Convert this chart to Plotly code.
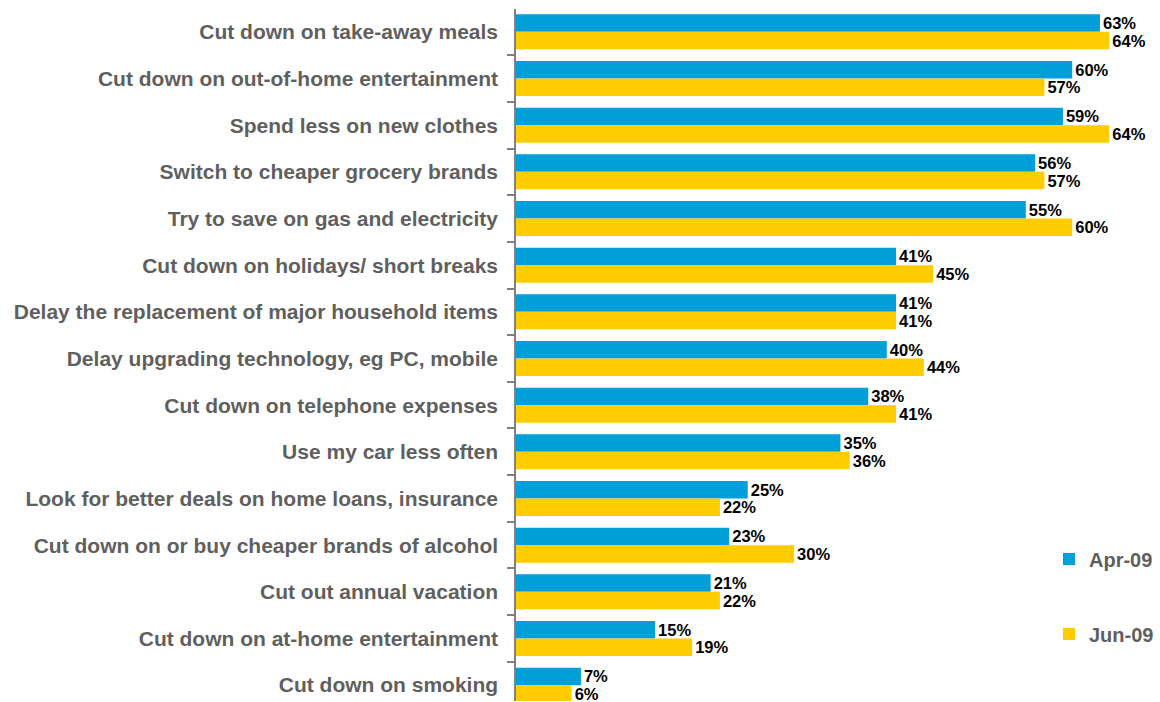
import plotly.graph_objects as go

categories = [
    "Cut down on take-away meals",
    "Cut down on out-of-home entertainment",
    "Spend less on new clothes",
    "Switch to cheaper grocery brands",
    "Try to save on gas and electricity",
    "Cut down on holidays/ short breaks",
    "Delay the replacement of major household items",
    "Delay upgrading technology, eg PC, mobile",
    "Cut down on telephone expenses",
    "Use my car less often",
    "Look for better deals on home loans, insurance",
    "Cut down on or buy cheaper brands of alcohol",
    "Cut out annual vacation",
    "Cut down on at-home entertainment",
    "Cut down on smoking",
]
apr_09 = [63, 60, 59, 56, 55, 41, 41, 40, 38, 35, 25, 23, 21, 15, 7]
jun_09 = [64, 57, 64, 57, 60, 45, 41, 44, 41, 36, 22, 30, 22, 19, 6]

BLUE = "#009FDA"
YELLOW = "#FFCC00"
GREY = "#5F5F5F"
FONT = "Liberation Sans, Arial, sans-serif"

fig = go.Figure()
fig.add_trace(go.Bar(
    name="Apr-09", y=categories, x=apr_09, orientation="h",
    marker=dict(color=BLUE, line=dict(width=0)),
    text=[f"{v}%" for v in apr_09], textposition="outside",
    constraintext="none", cliponaxis=False,
    textfont=dict(family=FONT, size=16.5, color="#000000", weight="bold"),
    legend="legend",
))
fig.add_trace(go.Bar(
    name="Jun-09", y=categories, x=jun_09, orientation="h",
    marker=dict(color=YELLOW, line=dict(width=0)),
    text=[f"{v}%" for v in jun_09], textposition="outside",
    constraintext="none", cliponaxis=False,
    textfont=dict(family=FONT, size=16.5, color="#000000", weight="bold"),
    legend="legend2",
))

fig.update_layout(
    width=1160, height=702,
    margin=dict(l=516, r=0, t=9, b=1, autoexpand=False),
    paper_bgcolor="white", plot_bgcolor="white",
    barmode="group", bargap=0.25, bargroupgap=0,
    font=dict(family=FONT),
    showlegend=True,
    legend=dict(
        x=(1049 - 516) / 644, y=1 - (559 - 9) / 692,
        xanchor="left", yanchor="middle", bgcolor="rgba(0,0,0,0)",
        font=dict(family=FONT, size=20, color=GREY, weight="bold"),
        itemwidth=30,
    ),
    legend2=dict(
        x=(1049 - 516) / 644, y=1 - (634 - 9) / 692,
        xanchor="left", yanchor="middle", bgcolor="rgba(0,0,0,0)",
        font=dict(family=FONT, size=20, color=GREY, weight="bold"),
        itemwidth=30,
    ),
    xaxis=dict(
        range=[0, 644 / 9.27], visible=False, showgrid=False, zeroline=False,
    ),
    yaxis=dict(
        type="category", range=[14.34, -0.49],
        showline=True, linecolor="#808080", linewidth=1.5,
        ticks="outside", tickson="boundaries", ticklen=7, tickcolor="#808080",
        tickwidth=1.5,
        showgrid=False, ticklabelstandoff=12,
        tickfont=dict(family=FONT, size=21, color=GREY, weight="bold"),
    ),
)

fig.write_html("out.html")
